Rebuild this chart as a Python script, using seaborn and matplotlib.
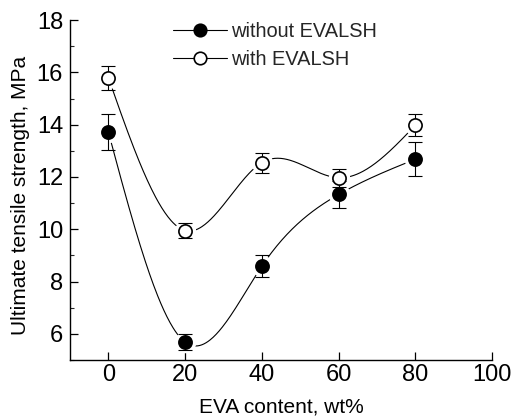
import numpy as np
import pandas as pd
import matplotlib
matplotlib.use("Agg")
import matplotlib.pyplot as plt
import seaborn as sns
from matplotlib.ticker import MultipleLocator

# ---- data ----
eva_content = [0, 20, 40, 60, 80]
without_vals = [13.72, 5.68, 8.59, 11.33, 12.68]
without_err = [0.68, 0.30, 0.43, 0.50, 0.64]
with_vals = [15.80, 9.95, 12.55, 11.97, 13.98]
with_err = [0.46, 0.30, 0.38, 0.35, 0.43]
series_labels = ["without EVALSH", "with EVALSH"]
x_label = "EVA content, wt%"
y_label = "Ultimate tensile strength, MPa"


def natural_spline(x, y, n=300):
    x = np.asarray(x, float)
    y = np.asarray(y, float)
    k = len(x)
    h = np.diff(x)
    A = np.zeros((k, k))
    b = np.zeros(k)
    A[0, 0] = 1
    A[-1, -1] = 1
    for i in range(1, k - 1):
        A[i, i - 1] = h[i - 1]
        A[i, i] = 2 * (h[i - 1] + h[i])
        A[i, i + 1] = h[i]
        b[i] = 6 * ((y[i + 1] - y[i]) / h[i] - (y[i] - y[i - 1]) / h[i - 1])
    M = np.linalg.solve(A, b)
    xs = np.linspace(x[0], x[-1], n)
    idx = np.clip(np.searchsorted(x, xs) - 1, 0, k - 2)
    x0, x1 = x[idx], x[idx + 1]
    hh = x1 - x0
    t0 = x1 - xs
    t1 = xs - x0
    ys = (M[idx] * t0 ** 3 / (6 * hh) + M[idx + 1] * t1 ** 3 / (6 * hh)
          + (y[idx] / hh - M[idx] * hh / 6) * t0
          + (y[idx + 1] / hh - M[idx + 1] * hh / 6) * t1)
    return xs, ys


sns.set_theme(style="ticks")
plt.rcParams['font.family'] = ['Liberation Sans', 'DejaVu Sans']

fig = plt.figure(figsize=(5.11, 4.20), dpi=100)
ax = fig.add_axes([0.137, 0.143, 0.826, 0.809])

ms = 9.5
for vals, errs, face, lab in [(without_vals, without_err, "black", series_labels[0]),
                               (with_vals, with_err, "white", series_labels[1])]:
    xs, ys = natural_spline(eva_content, vals)
    sns.lineplot(x=xs, y=ys, ax=ax, color="black", lw=0.8, zorder=1, legend=False)
    # white halo to create the gap between curve and marker
    ax.plot(eva_content, vals, ls="none", marker="o", ms=ms + 5, mfc="white",
            mec="white", zorder=2)
    ax.errorbar(eva_content, vals, yerr=errs, fmt="none", ecolor="black",
                elinewidth=0.8, capsize=4.7, capthick=0.8, zorder=3)
    sns.scatterplot(x=eva_content, y=vals, ax=ax, marker="o", s=ms ** 2,
                    facecolor=face, edgecolor="black", linewidth=1.2, zorder=4)
    ax.plot([], [], color="black", lw=0.8, marker="o", ms=ms - 0.5, mfc=face,
            mec="black", mew=1.2, label=lab)

ax.set_xlim(-10, 100)
ax.set_ylim(5, 18)
ax.set_xticks([0, 20, 40, 60, 80, 100])
ax.set_yticks([6, 8, 10, 12, 14, 16, 18])
ax.yaxis.set_minor_locator(MultipleLocator(1))
ax.tick_params(axis="both", which="major", direction="in", length=6, width=0.9,
               labelsize=17, colors="black")
ax.tick_params(axis="x", which="major", pad=3)
ax.tick_params(axis="y", which="major", pad=5)
ax.tick_params(axis="y", which="minor", direction="in", length=3, width=0.8)
ax.tick_params(axis="x", which="both", top=False)
ax.tick_params(axis="y", which="both", right=False)
sns.despine(ax=ax)
for s in ["left", "bottom"]:
    ax.spines[s].set_color("black")
    ax.spines[s].set_linewidth(1.0)

ax.set_xlabel(x_label, fontsize=15, labelpad=8, color="black")
ax.set_ylabel(y_label, fontsize=15, color="black")
ax.yaxis.set_label_coords(-0.095, 0.485)

ax.legend(loc="upper left", bbox_to_anchor=(0.225, 1.017), frameon=False,
          fontsize=14.4, handlelength=2.7, handletextpad=0.2, labelspacing=0.42,
          borderaxespad=0)

fig.savefig("out.png", dpi=100)
